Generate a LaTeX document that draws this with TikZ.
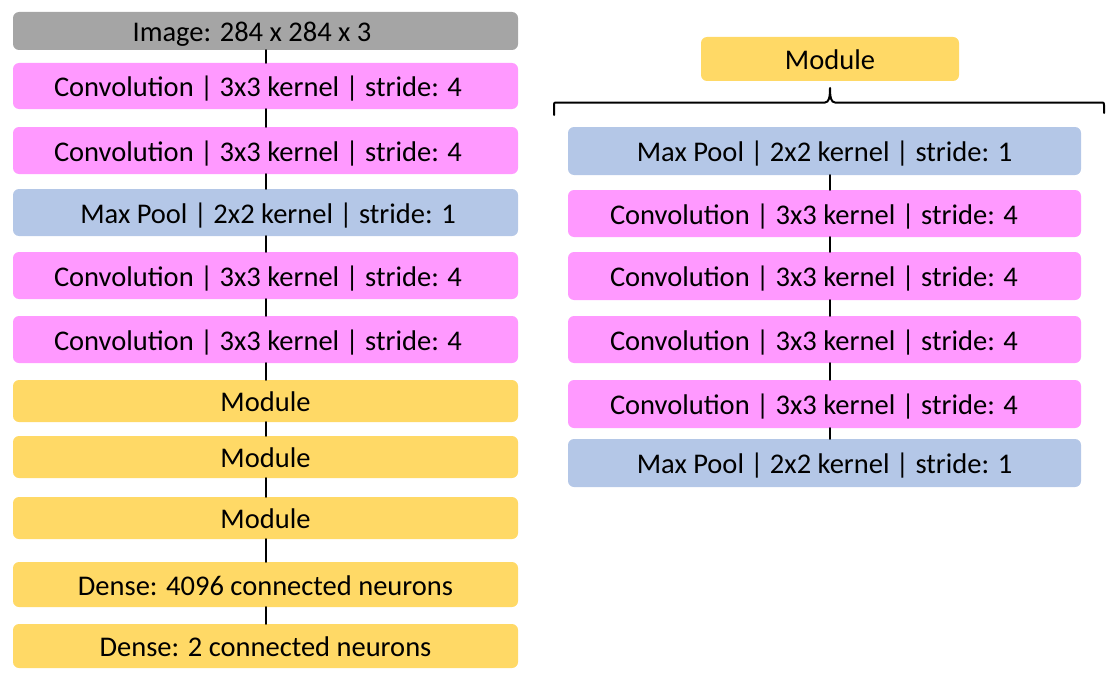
\documentclass[tikz,border=0pt]{standalone}
\usepackage{fontspec}
\setmainfont{Carlito}
\definecolor{imggray}{HTML}{A5A5A5}
\definecolor{convpink}{HTML}{FF99FF}
\definecolor{poolblue}{HTML}{B4C7E7}
\definecolor{modgold}{HTML}{FFD966}
\begin{document}
\begin{tikzpicture}[x=1pt,y=-1pt,line join=round,line cap=round,
  font=\fontsize{28.5}{34}\selectfont,
  box/.style={rounded corners=6pt,inner sep=0pt,minimum width=505pt,text height=21pt,text depth=0pt},
  rbox/.style={box,minimum width=513pt},
  conv/.style={fill=convpink,minimum height=47pt},
  pool/.style={fill=poolblue,minimum height=47pt},
  modbox/.style={fill=modgold,minimum height=42pt},
  link/.style={line width=2pt}]
\useasboundingbox (0,0) rectangle (1114,685);
% left column
\node[box,fill=imggray,minimum height=38pt] (img) at (265.5,31) {Image: 284 x 284 x 3\hspace*{27pt}};
\node[box,conv,minimum height=46pt] (cA) at (265.5,86) {Convolution | 3x3 kernel | stride: 4\hspace*{15pt}};
\node[box,conv] (cB) at (265.5,150.5) {Convolution | 3x3 kernel | stride: 4\hspace*{15pt}};
\node[box,pool] (pA) at (265.5,212.5) {\hspace*{5pt}Max Pool | 2x2 kernel | stride: 1};
\node[box,conv] (cC) at (265.5,275.5) {Convolution | 3x3 kernel | stride: 4\hspace*{15pt}};
\node[box,conv] (cD) at (265.5,339.5) {Convolution | 3x3 kernel | stride: 4\hspace*{15pt}};
\node[box,modbox] (mA) at (265.5,401) {Module};
\node[box,modbox] (mB) at (265.5,457) {Module};
\node[box,modbox] (mC) at (265.5,518) {Module};
\node[box,modbox,minimum height=45pt] (dA) at (265.5,584.5) {Dense: 4096 connected neurons};
\node[box,modbox,minimum height=44pt] (dB) at (265.5,646) {Dense: 2 connected neurons};
\foreach \a/\b in {img/cA,cA/cB,cB/pA,pA/cC,cC/cD,cD/mA,mA/mB,mB/mC,mC/dA,dA/dB}
  \draw[link] (\a.south)--(\b.north);
% right column
\node[box,modbox,minimum width=258pt,minimum height=44pt] (mod) at (830,59) {Module};
\node[rbox,pool,minimum height=48pt] (rpA) at (824.5,151) {Max Pool | 2x2 kernel | stride: 1};
\node[rbox,conv] (rcA) at (824.5,213.5) {Convolution | 3x3 kernel | stride: 4\hspace*{21pt}};
\node[rbox,conv,minimum height=48pt] (rcB) at (824.5,276) {Convolution | 3x3 kernel | stride: 4\hspace*{21pt}};
\node[rbox,conv] (rcC) at (824.5,339.5) {Convolution | 3x3 kernel | stride: 4\hspace*{21pt}};
\node[rbox,conv,minimum height=48pt] (rcD) at (824.5,404) {Convolution | 3x3 kernel | stride: 4\hspace*{21pt}};
\node[rbox,pool,minimum height=48pt] (rpB) at (824.5,463) {Max Pool | 2x2 kernel | stride: 1};
\foreach \a/\b in {rpA/rcA,rcA/rcB,rcB/rcC,rcC/rcD,rcD/rpB}
  \draw[link] (mod|-\a.south)--(mod|-\b.north);
% brace
\draw[link] (554,115)--(554,105)..controls(554,102.5)..(557,102.5)--(825,102.5)
  ..controls(829,102.5)and(830,97)..(830,88)..controls(830,97)and(831,102.5)..(835,102.5)
  --(1101,102.5)..controls(1104,102.5)..(1104,105)--(1104,113);
\end{tikzpicture}
\end{document}
